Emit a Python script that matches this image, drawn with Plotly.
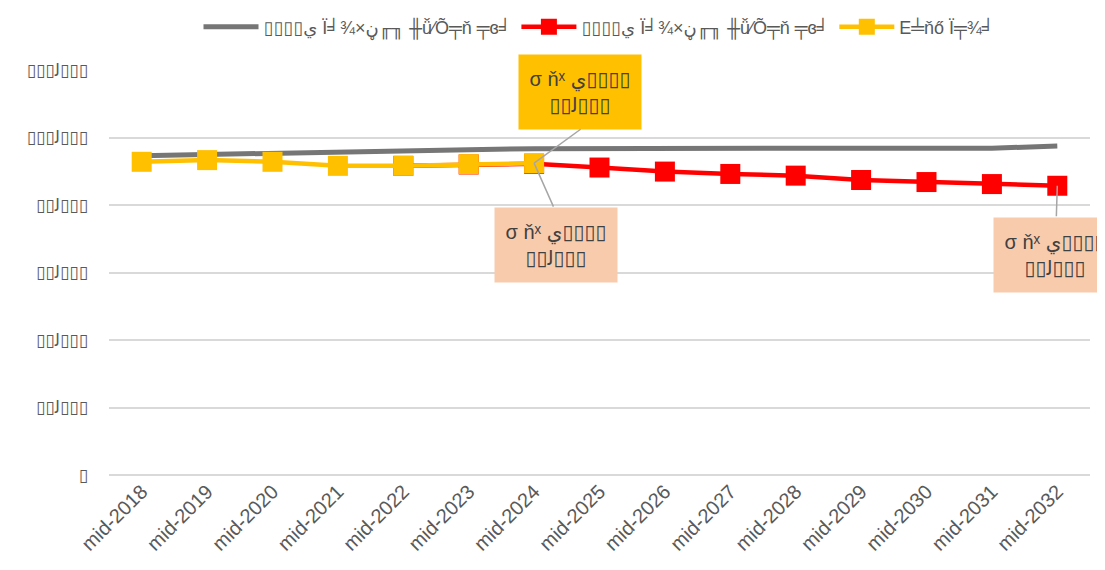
import plotly.graph_objects as go

categories = ["mid-2018", "mid-2019", "mid-2020", "mid-2021", "mid-2022", "mid-2023", "mid-2024",
              "mid-2025", "mid-2026", "mid-2027", "mid-2028", "mid-2029", "mid-2030", "mid-2031", "mid-2032"]

series_grey_name = "▯▯▯▯ي Ï╛¾×ڼ╓╖ ╫ǚ⁄Õ╤ň ╤ɞ╛"
series_red_name = "▯▯▯▯ي Ï╛¾×ڼ╓╖ ╫ǚ⁄Õ╤ň ╤ɞ╛"
series_yellow_name = "E╧ňő Ï╤¾╛"

grey_values = [94600, 95000, 95400, 95900, 96300, 96400, 96700, 96800, 96800, 96800, 96800, 96800, 96800, 96800, 97500]
red_values = [None, None, None, None, 91600, 92000, 92200, 91100, 89900, 89200, 88700, 87400, 86800, 86200, 85700]
yellow_values = [92800, 93300, 92800, 91600, 91600, 92100, 92400, None, None, None, None, None, None, None, None]

y_tickvals = [0, 20000, 40000, 60000, 80000, 100000, 120000]
y_ticktext = ["▯", "▯▯ﻟ▯▯▯", "▯▯ﻟ▯▯▯", "▯▯ﻟ▯▯▯", "▯▯ﻟ▯▯▯", "▯▯▯ﻟ▯▯▯", "▯▯▯ﻟ▯▯▯"]

label_text = "σ ňˣ ي▯▯▯▯<br>▯▯ﻟ▯▯▯"

fig = go.Figure()
fig.add_trace(go.Scatter(x=categories, y=grey_values, name=series_grey_name, mode="lines",
                         line=dict(color="#767676", width=5)))
fig.add_trace(go.Scatter(x=categories, y=red_values, name=series_red_name, mode="lines+markers",
                         line=dict(color="#FF0000", width=4.5),
                         marker=dict(symbol="square", size=20, color="#FF0000")))
fig.add_trace(go.Scatter(x=categories, y=yellow_values, name=series_yellow_name, mode="lines+markers",
                         line=dict(color="#FFC000", width=4.5),
                         marker=dict(symbol="square", size=20, color="#FFC000")))

font_fam = "Liberation Sans, DejaVu Sans, sans-serif"

annotations = [
    # label boxes
    dict(x=categories[6], y=yellow_values[6], text=label_text, showarrow=False,
         xshift=46, yshift=71, width=120, height=72, bgcolor="#FFC000",
         font=dict(size=20, color="#404040", family=font_fam), align="center", valign="middle"),
    dict(x=categories[6], y=yellow_values[6], text=label_text, showarrow=False,
         xshift=22, yshift=-82, width=120, height=72, bgcolor="#F8CBAD",
         font=dict(size=20, color="#404040", family=font_fam), align="center", valign="middle"),
    dict(x=categories[14], y=red_values[14], text=label_text, showarrow=False,
         xshift=-2, yshift=-69, width=120, height=72, bgcolor="#F8CBAD",
         font=dict(size=20, color="#404040", family=font_fam), align="center", valign="middle"),
    # leader lines
    dict(x=categories[6], y=yellow_values[6], text="", showarrow=True, arrowhead=0,
         arrowcolor="#A6A6A6", arrowwidth=1.5, ax=48, ay=-35),
    dict(x=categories[6], y=yellow_values[6], text="", showarrow=True, arrowhead=0,
         arrowcolor="#A6A6A6", arrowwidth=1.5, ax=20, ay=45),
    dict(x=categories[14], y=red_values[14], text="", showarrow=True, arrowhead=0,
         arrowcolor="#A6A6A6", arrowwidth=1.5, ax=-1, ay=32),
]

fig.update_layout(
    width=1097, height=562,
    margin=dict(l=101, r=15, t=62, b=95, autoexpand=False),
    paper_bgcolor="white", plot_bgcolor="white",
    font=dict(family=font_fam, color="#595959", size=17),
    showlegend=True,
    legend=dict(orientation="h", x=0.5, xanchor="center", y=1.106, yanchor="middle",
                font=dict(size=18, color="#595959"), itemwidth=55, tracegroupgap=0),
    annotations=annotations,
)

fig.update_xaxes(type="category", range=[-0.5, 14.5], tickangle=-45, showgrid=False,
                 showline=False, ticks="", tickfont=dict(size=20, color="#595959"))
fig.update_yaxes(range=[0, 120000], tickvals=y_tickvals, ticktext=y_ticktext,
                 showgrid=True, gridcolor="#D9D9D9", gridwidth=2,
                 zeroline=True, zerolinecolor="#D9D9D9", zerolinewidth=2,
                 showline=False, ticks="", ticklabelstandoff=20,
                 tickfont=dict(size=17, color="#595959"))

fig.write_html("out.html")
